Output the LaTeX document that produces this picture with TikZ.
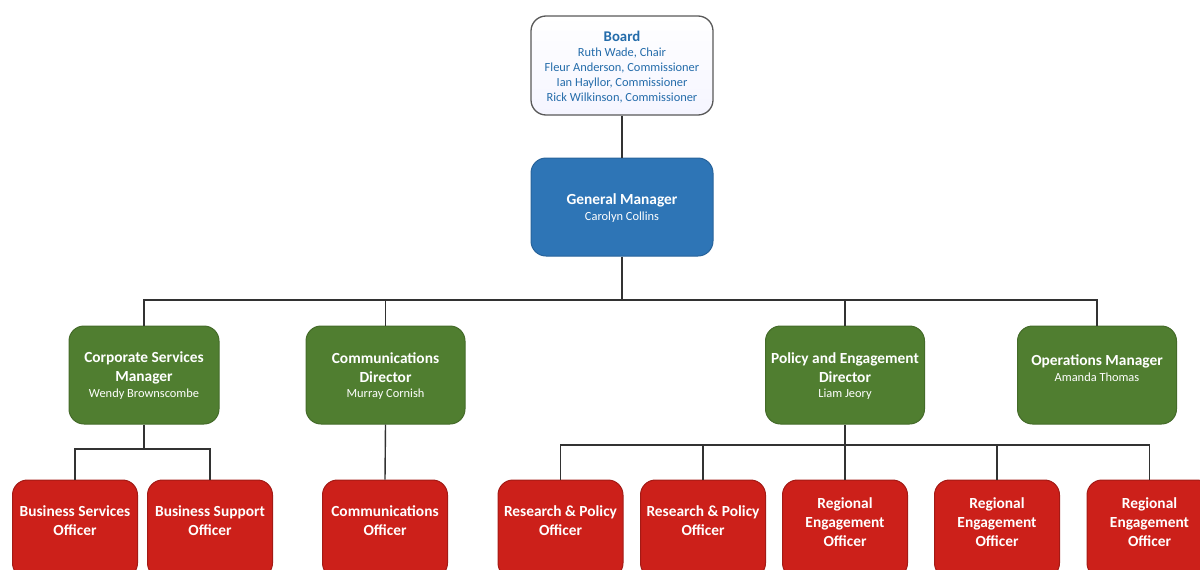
\documentclass[tikz,border=0pt]{standalone}
\usepackage{fontspec}
\setmainfont{Carlito}
\definecolor{gmblue}{RGB}{46,117,182}
\definecolor{mgreen}{RGB}{80,126,48}
\definecolor{mred}{RGB}{204,32,26}
\definecolor{boardtxt}{RGB}{36,108,170}
\definecolor{linec}{RGB}{50,50,50}
\tikzset{
  box/.style={rounded corners=15pt, inner sep=0pt, minimum height=98pt, line width=1pt},
  boardbox/.style={box, draw=black!65, line width=1.3pt, top color=white, bottom color=blue!4!white, minimum width=182pt, minimum height=99pt},
  gmbox/.style={box, fill=gmblue, draw=gmblue!85!black, minimum width=182pt},
  greenbox/.style={box, fill=mgreen, draw=mgreen!85!black, minimum width=159pt},
  redbox/.style={box, fill=mred, draw=mred!80!black, minimum width=125pt},
  ttl/.style={text=white, font=\bfseries\fontsize{15.4}{19}\selectfont, align=center, inner sep=0pt},
  sub/.style={text=white, font=\fontsize{12.4}{15}\selectfont, align=center, inner sep=0pt},
  conn/.style={draw=linec, line width=1.4pt},
}
\begin{document}
\begin{tikzpicture}[x=1pt,y=-1pt]
\useasboundingbox (0,0) rectangle (1200,570);
% boxes
\node[boardbox] (board) at (622,65.5) {};
\node[gmbox] (gm) at (622,207) {};
\node[greenbox, minimum width=150pt] (corp) at (144,375) {};
\node[greenbox] (commdir) at (385.5,375) {};
\node[greenbox] (policy) at (845,375) {};
\node[greenbox] (ops) at (1097,375) {};
\node[redbox] (bso) at (75,529) {};
\node[redbox] (bsup) at (210,529) {};
\node[redbox] (comoff) at (385,529) {};
\node[redbox] (rp1) at (560.5,529) {};
\node[redbox] (rp2) at (703,529) {};
\node[redbox] (reg1) at (845,529) {};
\node[redbox] (reg2) at (997,529) {};
\node[redbox] (reg3) at (1149.5,529) {};
% connectors
\coordinate (bus) at (622,300);
\coordinate (corpbus) at (144,449);
\coordinate (polbus) at (845,445);
\draw[conn] (board.south) -- (gm.north);
\draw[conn] (gm.south) -- (bus);
\draw[conn] (corp.north) -- (corp.north |- bus) -- (ops.north |- bus) -- (ops.north);
\draw[conn] (commdir.north) -- (commdir.north |- bus);
\draw[conn] (policy.north) -- (policy.north |- bus);
\draw[conn] (corp.south) -- (corpbus);
\draw[conn] (bso.north) -- (bso.north |- corpbus) -- (bsup.north |- corpbus) -- (bsup.north);
\draw[conn] (commdir.south) -- (comoff.north);
\draw[conn] (policy.south) -- (policy.south |- polbus);
\draw[conn] (rp1.north) -- (rp1.north |- polbus) -- (reg3.north |- polbus) -- (reg3.north);
\draw[conn] (rp2.north) -- (rp2.north |- polbus);
\draw[conn] (reg1.north) -- (reg1.north |- polbus);
\draw[conn] (reg2.north) -- (reg2.north |- polbus);
% texts
\node[ttl, text=boardtxt, font=\bfseries\fontsize{14.8}{19}\selectfont] (boardT) at (622,36) {Board};
\node[sub, text=boardtxt] (boardS) at (622,75) {Ruth Wade, Chair\\Fleur Anderson, Commissioner\\Ian Hayllor, Commissioner\\Rick Wilkinson, Commissioner};
\node[ttl] (gmT) at (622,200) {General Manager};
\node[sub] (gmS) at (622,217) {Carolyn Collins};
\node[ttl] (corpT) at (144,368) {Corporate Services\\Manager};
\node[sub] (corpS) at (144,394) {Wendy Brownscombe};
\node[ttl] (commdirT) at (385.5,368) {Communications\\Director};
\node[sub] (commdirS) at (385.5,394) {Murray Cornish};
\node[ttl] (policyT) at (845,368) {Policy and Engagement\\Director};
\node[sub] (policyS) at (845,394) {Liam Jeory};
\node[ttl] (opsT) at (1097,361) {Operations Manager};
\node[sub] (opsS) at (1097,377) {Amanda Thomas};
\node[ttl] (bsoT) at (75,521) {Business Services\\Officer};
\node[ttl] (bsupT) at (210,521) {Business Support\\Officer};
\node[ttl] (comoffT) at (385,521) {Communications\\Officer};
\node[ttl] (rp1T) at (560.5,521) {Research \& Policy\\Officer};
\node[ttl] (rp2T) at (703,521) {Research \& Policy\\Officer};
\node[ttl] (reg1T) at (845,522) {Regional\\Engagement\\Officer};
\node[ttl] (reg2T) at (997,522) {Regional\\Engagement\\Officer};
\node[ttl] (reg3T) at (1149.5,522) {Regional\\Engagement\\Officer};
\end{tikzpicture}
\end{document}
